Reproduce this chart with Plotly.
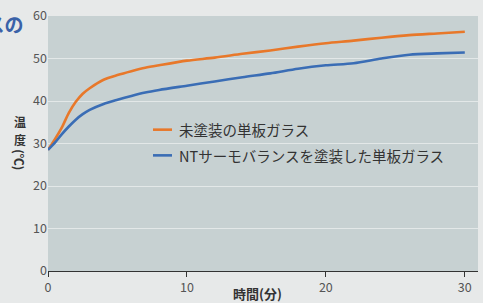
import plotly.graph_objects as go

time_min = [0, 0.5, 1, 1.5, 2, 2.5, 3, 4, 5, 6, 7, 8, 10, 12, 14, 16, 18, 20, 22, 24, 26, 28, 30]
uncoated = [28.5, 31.0, 33.8, 37.2, 39.8, 41.7, 43.0, 45.0, 46.1, 47.0, 47.8, 48.4, 49.5, 50.2, 51.1, 51.9,
            52.8, 53.6, 54.2, 54.9, 55.5, 55.9, 56.3]
coated = [28.5, 30.2, 32.2, 34.0, 35.6, 36.9, 37.9, 39.3, 40.3, 41.2, 42.0, 42.6, 43.6, 44.6, 45.6, 46.5,
          47.6, 48.4, 48.9, 50.0, 50.9, 51.2, 51.4]

names = ["未塗装の単板ガラス", "NTサーモバランスを塗装した単板ガラス"]
colors = ["#e8782a", "#3a6db5"]
x_ticks = [0, 10, 20, 30]
y_ticks = [0, 10, 20, 30, 40, 50, 60]

FONT = "Noto Sans CJK JP"
W, H = 483, 303
L, R, T, B = 48, 5, 13, 32
PW, PH = W - L - R, H - T - B


def px(x):
    return (x - L) / PW


def py(y):
    return (H - y - B) / PH


fig = go.Figure()
for ys, nm, c in zip([uncoated, coated], names, colors):
    fig.add_trace(go.Scatter(x=time_min, y=ys, mode="lines", name=nm,
                             line=dict(color=c, width=2.6, shape="spline", smoothing=0.8),
                             showlegend=False))

fig.update_layout(
    width=W, height=H,
    margin=dict(l=L, r=R, t=T, b=B),
    paper_bgcolor="#e7e9e9",
    plot_bgcolor="#c7d1d2",
    font=dict(family=FONT, color="#555555", size=12),
    xaxis=dict(range=[0, 30.95], tickvals=x_ticks, showgrid=False, zeroline=False,
               showline=True, linecolor="#333333", linewidth=1.2,
               ticks="outside", ticklen=5, tickcolor="#333333",
               tickfont=dict(size=12.5, color="#555555"), fixedrange=True),
    yaxis=dict(range=[0, 60], tickvals=y_ticks, showgrid=True, gridcolor="#e3e8e8", gridwidth=1,
               zeroline=False, showline=False, ticks="", ticklen=4,
               tickfont=dict(size=12.5, color="#555555"), fixedrange=True),
)

# legend drawn manually
leg_y = [128, 154]
for yy, nm, c in zip(leg_y, names, colors):
    fig.add_shape(type="line", xref="paper", yref="paper",
                  x0=px(153), x1=px(172), y0=py(yy), y1=py(yy),
                  line=dict(color=c, width=2.6))
    fig.add_annotation(xref="paper", yref="paper", x=px(177), y=py(yy),
                       xanchor="left", yanchor="middle", showarrow=False,
                       text=nm, font=dict(family=FONT, size=14.5, color="#333333"))

# axis titles
fig.add_annotation(xref="paper", yref="paper", x=px(257), y=py(294),
                   xanchor="center", yanchor="middle", showarrow=False, text="時間(分)",
                   font=dict(family=FONT, size=13, color="#333333", weight="bold"))
for ch, yy in [("温", 119.5), ("度", 137.5)]:
    fig.add_annotation(xref="paper", yref="paper", x=px(20), y=py(yy),
                       xanchor="center", yanchor="middle", showarrow=False, text=ch,
                       borderpad=0,
                       font=dict(family=FONT, size=12, color="#333333", weight="bold"))
fig.add_annotation(xref="paper", yref="paper", x=px(20), y=py(158),
                   xanchor="center", yanchor="middle", showarrow=False, text="(℃)", textangle=90,
                   borderpad=0,
                   font=dict(family=FONT, size=12, color="#333333", weight="bold"))

# cropped heading fragment
fig.add_annotation(xref="paper", yref="paper", x=px(26), y=py(21),
                   xanchor="right", yanchor="middle", showarrow=False, text="ガラスの",
                   font=dict(family=FONT, size=19, color="#3a62a8", weight="bold"))

fig.write_html("out.html", config={"displayModeBar": False},
               post_script="document.body.style.margin='0';")
